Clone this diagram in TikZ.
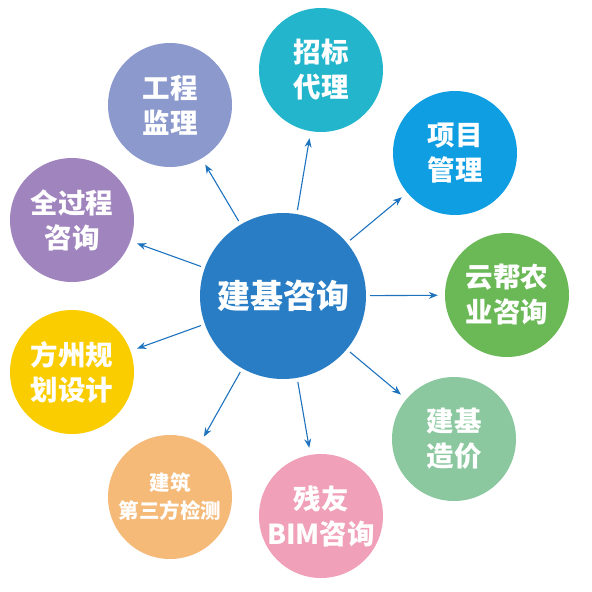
\documentclass[tikz,border=0pt]{standalone}
\usepackage{fontspec}
\newfontfamily\cjk{Noto Sans CJK SC}
\usetikzlibrary{arrows.meta}
\definecolor{hubblue}{RGB}{40,125,196}
\definecolor{arrowblue}{RGB}{30,115,190}
\definecolor{cteal}{RGB}{35,181,204}
\definecolor{cblue}{RGB}{16,158,226}
\definecolor{cgreen}{RGB}{106,184,86}
\definecolor{cmint}{RGB}{139,200,160}
\definecolor{cpink}{RGB}{240,160,184}
\definecolor{corange}{RGB}{245,185,120}
\definecolor{cyellow}{RGB}{250,205,0}
\definecolor{cpurple}{RGB}{160,132,190}
\definecolor{clavender}{RGB}{140,153,204}
\begin{document}
\begin{tikzpicture}[
        x=1pt, y=-1pt,
        hub/.style={circle, fill=hubblue, minimum size=166pt, inner sep=0pt, text=white,
            font=\cjk\bfseries\fontsize{33}{36}\selectfont},
        item/.style={circle, minimum size=124pt, inner sep=0pt, text=white, align=center,
            font=\cjk\bfseries\fontsize{27.5}{35}\selectfont},
        small/.style={font=\cjk\bfseries\fontsize{20.5}{28}\selectfont},
        link/.style={draw=arrowblue, line width=1.1pt, -{Stealth[length=9pt,width=7pt]},
            shorten <=4pt, shorten >=7pt}
    ]
    \useasboundingbox (0,0) rectangle (592,592);
    \node[hub] (hub) at (283,296) {建基咨询};
    \node[item, fill=cteal] (bid) at (321,70) {招标\\代理};
    \node[item, fill=cblue] (pm) at (455,153) {项目\\管理};
    \node[item, fill=cgreen] (agri) at (507,295) {云帮农\\业咨询};
    \node[item, fill=cmint] (cost) at (454,439) {建基\\造价};
    \node[item, fill=cpink] (bim) at (321,516) {残友\\BIM咨询};
    \node[item, small, fill=corange] (test) at (170,497) {建筑\\第三方检测};
    \node[item, fill=cyellow] (plan) at (72,372) {方州规\\划设计};
    \node[item, fill=cpurple] (whole) at (72,220) {全过程\\咨询};
    \node[item, fill=clavender] (super) at (170,105) {工程\\监理};
    \draw[link] (hub) -- (bid);
    \draw[link] (hub) -- (pm);
    \draw[link] (hub) -- (agri);
    \draw[link] (hub) -- (cost);
    \draw[link] (hub) -- (bim);
    \draw[link] (hub) -- (test);
    \draw[link] (hub) -- (plan);
    \draw[link] (hub) -- (whole);
    \draw[link] (hub) -- (super);
\end{tikzpicture}
\end{document}
